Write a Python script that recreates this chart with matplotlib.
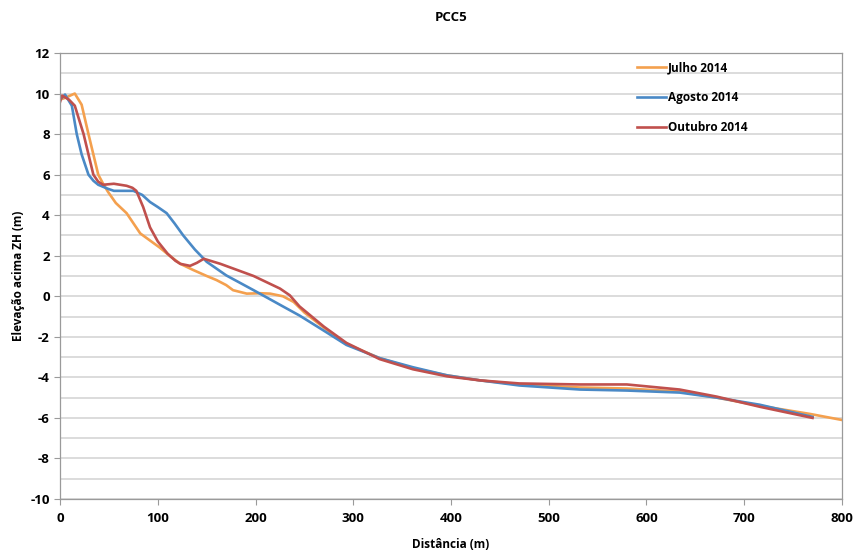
import matplotlib
matplotlib.use("Agg")
import matplotlib.pyplot as plt
from matplotlib.ticker import MultipleLocator

plt.rcParams['font.family'] = ['Open Sans', 'DejaVu Sans']
plt.rcParams['font.weight'] = 'bold'
plt.rcParams['axes.unicode_minus'] = False

# data (distance in m, elevation in m)
jul_x = [3, 8, 15, 22, 29, 34, 39, 44, 49, 57, 68, 82, 92, 102, 112, 123, 136, 150, 160, 170,
         177, 191, 205, 215, 228, 239, 250, 270, 293, 327, 361, 396, 430, 470, 532, 580,
         634, 672, 716, 767, 800]
jul_y = [9.75, 9.85, 10.0, 9.45, 8.0, 7.0, 6.0, 5.55, 5.15, 4.6, 4.1, 3.1, 2.75, 2.4, 2.0, 1.6, 1.3, 1.0,
         0.8, 0.55, 0.3, 0.13, 0.15, 0.13, 0.0, -0.28, -0.8, -1.55, -2.35, -3.05, -3.55, -3.9, -4.15,
         -4.35, -4.5, -4.55, -4.7, -5.0, -5.4, -5.8, -6.1]

ago_x = [0, 5, 12, 17, 22, 29, 34, 39, 49, 55, 75, 84, 92, 100, 109, 117, 126, 138, 150, 170,
         198, 228, 245, 270, 293, 327, 361, 396, 430, 470, 532, 580, 634, 672, 716, 770]
ago_y = [9.7, 9.95, 9.4, 8.0, 7.0, 6.0, 5.7, 5.5, 5.3, 5.2, 5.2, 5.0, 4.65, 4.4, 4.1, 3.6, 3.0, 2.3,
         1.7, 1.03, 0.3, -0.5, -0.95, -1.7, -2.4, -3.05, -3.5, -3.9, -4.15, -4.4, -4.6, -4.65,
         -4.75, -5.0, -5.35, -5.95]

out_x = [0, 2, 9, 15, 24, 29, 34, 39, 44, 55, 68, 74, 78, 85, 92, 100, 110, 118, 123, 133,
         140, 147, 164, 198, 225, 235, 245, 270, 293, 327, 361, 396, 430, 470, 532, 580, 634,
         672, 716, 770]
out_y = [9.6, 9.9, 9.7, 9.4, 8.0, 7.0, 6.0, 5.65, 5.5, 5.55, 5.45, 5.35, 5.2, 4.4, 3.4, 2.7, 2.1, 1.75,
         1.6, 1.5, 1.65, 1.85, 1.6, 1.0, 0.38, 0.05, -0.5, -1.5, -2.3, -3.1, -3.6, -3.95, -4.15,
         -4.3, -4.35, -4.35, -4.6, -4.95, -5.45, -6.0]

series = [("Julho 2014", jul_x, jul_y, "#F4A04E"),
          ("Agosto 2014", ago_x, ago_y, "#4A89C6"),
          ("Outubro 2014", out_x, out_y, "#C0504D")]

fig = plt.figure(figsize=(8.59, 5.56), dpi=100)
ax = fig.add_axes([0.07, 0.1025, 0.91, 0.8022])

for name, x, y, c in series:
    ax.plot(x, y, color=c, lw=1.9, label=name)

ax.set_xlim(0, 800)
ax.set_ylim(-10, 12)
ax.xaxis.set_major_locator(MultipleLocator(100))
ax.yaxis.set_major_locator(MultipleLocator(2))
ax.yaxis.set_minor_locator(MultipleLocator(1))
ax.grid(axis='y', which='both', color='#D9D9D9', lw=1.3)
ax.set_axisbelow(True)

for s in ax.spines.values():
    s.set_color('#9A9A9A')
    s.set_linewidth(0.9)
ax.tick_params(axis='both', which='major', colors='#9A9A9A', length=4, labelsize=9.5,
               labelcolor='black')
ax.tick_params(axis='x', pad=5)
ax.tick_params(axis='y', which='minor', length=0)

ax.set_title("PCC5", fontsize=9.5, fontweight='bold', pad=23)
ax.set_xlabel("Distância (m)", fontsize=8.5, fontweight='bold', labelpad=10)
ax.set_ylabel("Elevação acima ZH (m)", fontsize=8.5, fontweight='bold', labelpad=4)

leg = ax.legend(loc='upper left', bbox_to_anchor=(0.725, 1.006), frameon=False, fontsize=8.5,
                handlelength=2.4, handletextpad=0.15, labelspacing=1.45)
for t in leg.get_texts():
    t.set_fontweight('bold')

fig.savefig("out.png", dpi=100)
